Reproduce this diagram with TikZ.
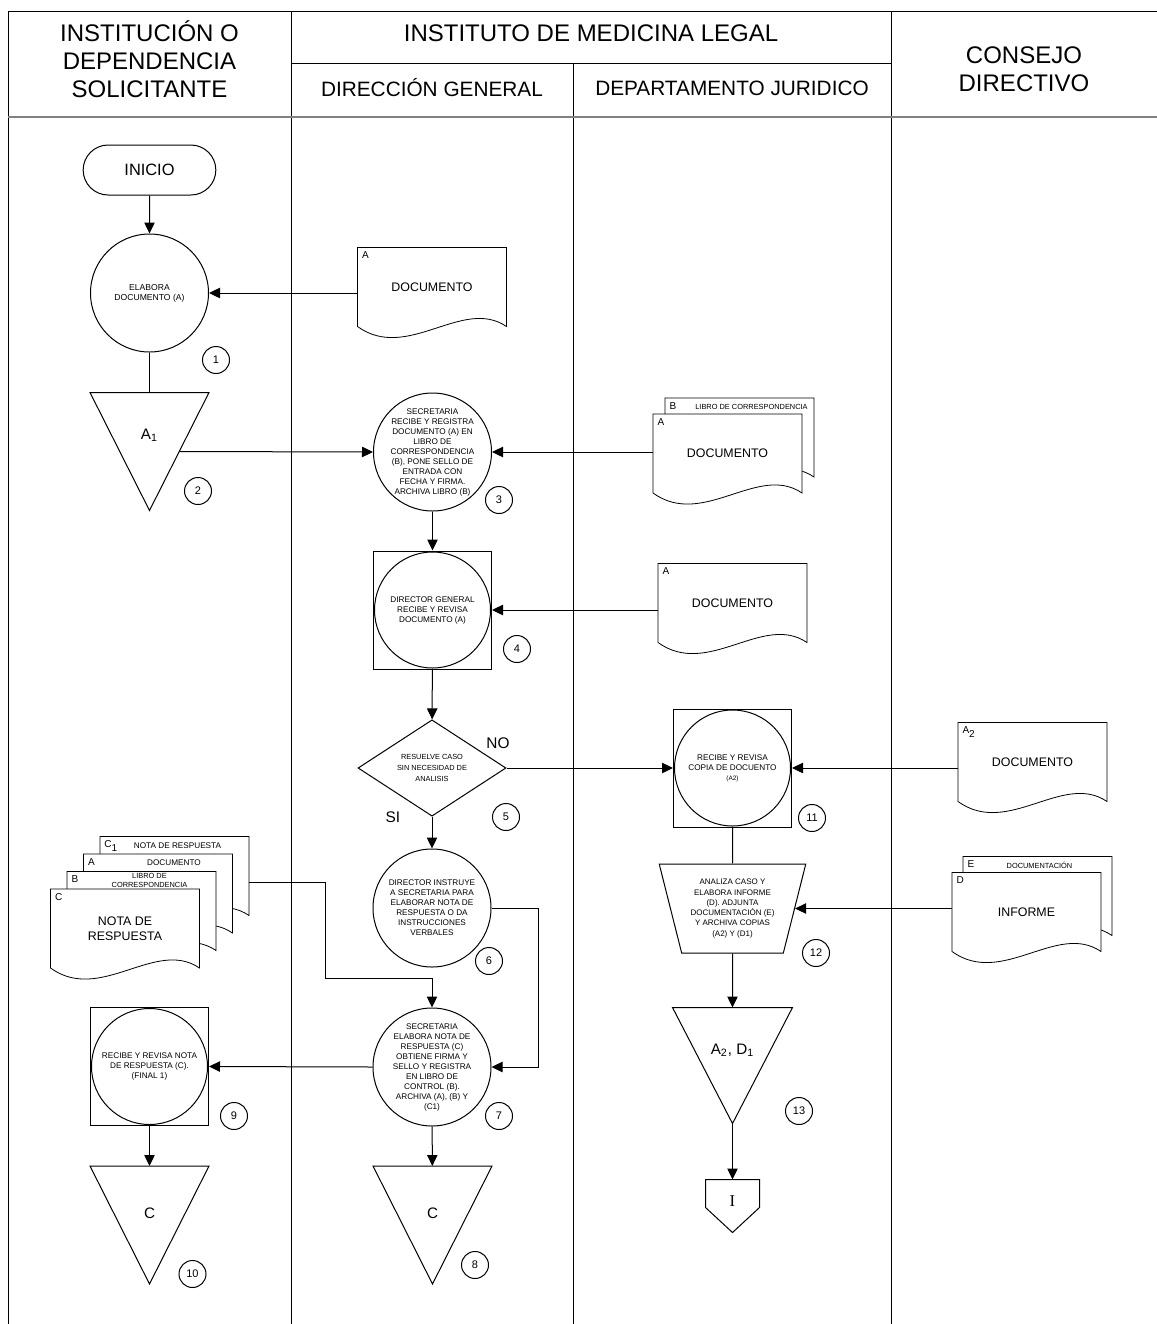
\documentclass[tikz,border=0pt]{standalone}
\usepackage{fontspec}
\setmainfont{Liberation Sans}
\newfontfamily\serifI{Liberation Serif}
\usetikzlibrary{arrows.meta, positioning, calc, backgrounds}
\usetikzlibrary{shapes.geometric, shapes.misc}

\newcommand{\docout}[1]{\draw[fill=white] (#1.north west) -- (#1.north east) -- (#1.south east) .. controls +(-22pt,15pt) and +(25pt,-18pt) .. (#1.south west) -- cycle;}
\newcommand{\triout}[1]{\draw (#1.north west) -- (#1.north east) -- (#1.south) -- cycle;}
\newcommand{\connout}[1]{\draw (#1.north west) -- (#1.north east) -- ([yshift=12.5pt]#1.south east) -- (#1.south) -- ([yshift=12.5pt]#1.south west) -- cycle;}

\begin{document}
\begin{tikzpicture}[x=0.5pt, y=-0.5pt, line width=0.5pt,
head_txt/.style={font=\fontsize{12}{14}\selectfont, align=center, inner sep=0pt},
sub_txt/.style={font=\fontsize{10.4}{12}\selectfont, inner sep=0pt},
term_box/.style={rounded rectangle, draw, minimum width=73pt, minimum height=25pt, font=\fontsize{8.2}{9}\selectfont},
proc_circle/.style={circle, draw, minimum size=59pt, inner sep=-4pt, align=center, font=\fontsize{4.1}{5}\selectfont},
insp_box/.style={rectangle, draw, minimum size=59pt, inner sep=0pt, align=center, font=\fontsize{4.1}{5}\selectfont,
    path picture={\draw (path picture bounding box.center) circle[radius=29pt];}},
dec_box/.style={diamond, draw, minimum width=74pt, minimum height=43pt, inner sep=0pt, align=center, font=\fontsize{3.7}{5.3}\selectfont},
manual_box/.style={trapezium, trapezium angle=72.5, shape border rotate=180, trapezium stretches=true, draw,
    minimum width=73.5pt, minimum height=44.5pt, inner sep=0pt, align=center, font=\fontsize{4}{5.15}\selectfont},
conn_box/.style={minimum width=26.5pt, minimum height=26pt, inner sep=0pt},
step_num/.style={circle, draw, minimum size=13.5pt, inner sep=0pt, font=\fontsize{5.5}{6}\selectfont},
doc_box/.style={rectangle, minimum width=74pt, minimum height=39pt, inner sep=0pt, align=center, font=\fontsize{6.2}{7.5}\selectfont},
doc_letter/.style={anchor=north west, inner sep=2pt, font=\fontsize{5}{6}\selectfont},
doc_head/.style={anchor=center, inner sep=0pt, align=center, font=\fontsize{3.7}{4.5}\selectfont},
tri_box/.style={minimum width=59pt, minimum height=58.5pt, inner sep=0pt},
tri_lbl/.style={inner sep=0pt, font=\fontsize{7.6}{8}\selectfont},
ans_txt/.style={inner sep=0pt, font=\fontsize{7.7}{9}\selectfont},
arr/.style={-{Triangle[length=5.5pt, width=5.2pt]}}
]
\useasboundingbox (0,0) rectangle (1157,1324);

% Draw lanes and header
    \draw (8,1324) -- (8,11) -- (1157,11);
    \draw (291,11) -- (291,1324);
    \draw (891,11) -- (891,1324);
    \draw (573,63) -- (573,1324);
    \draw (291,63) -- (891,63);
    \draw[gray, line width=1pt] (8,117) -- (1157,117);
    \node[head_txt] (hSol) at (149.5,59) {INSTITUCIÓN O\\DEPENDENCIA\\SOLICITANTE};
    \node[head_txt] (hIml) at (591,33.5) {INSTITUTO DE MEDICINA LEGAL};
    \node[sub_txt] (hDir) at (432,88) {DIRECCIÓN GENERAL};
    \node[sub_txt] (hDep) at (732,88) {DEPARTAMENTO JURIDICO};
    \node[head_txt] (hCon) at (1024,69) {CONSEJO\\DIRECTIVO};

% Draw solicitante steps
    \node[term_box] (inicio) at (149.5,170) {INICIO};
    \node[proc_circle, font=\fontsize{4.3}{5}\selectfont] (elab) at (149.5,293) {ELABORA\\DOCUMENTO (A)};
    \node[step_num] (n1) at (216,360) {1};
    \node[tri_box, label={[tri_lbl,yshift=8.25pt]center:{A\textsubscript{1}}}] (arch1) at (149.5,451.5) {};
    \node[step_num] (n2) at (198,491) {2};

% Draw direccion general steps
    \node[proc_circle] (secR) at (432.5,452) {SECRETARIA\\RECIBE Y REGISTRA\\DOCUMENTO (A) EN\\LIBRO DE\\CORRESPONDENCIA\\(B),  PONE SELLO DE\\ENTRADA CON\\FECHA Y FIRMA.\\ARCHIVA LIBRO (B)};
    \node[step_num] (n3) at (499,500) {3};
    \node[insp_box] (dirRev) at (432.5,610) {DIRECTOR GENERAL\\RECIBE Y REVISA\\DOCUMENTO (A)};
    \node[step_num] (n4) at (517,649) {4};
    \node[dec_box] (dec) at (432,768) {RESUELVE CASO\\SIN NECESIDAD DE\\ANALISIS};
    \node[step_num] (n5) at (506,817) {5};
    \node[ans_txt] (lblNo) at (498,743) {NO};
    \node[ans_txt] (lblSi) at (393,817) {SI};
    \node[proc_circle] (dirIns) at (432,908) {DIRECTOR INSTRUYE\\A SECRETARIA PARA\\ELABORAR NOTA DE\\RESPUESTA O DA\\INSTRUCCIONES\\VERBALES};
    \node[step_num] (n6) at (489,961) {6};
    \node[proc_circle] (secEl) at (432,1067) {SECRETARIA\\ELABORA NOTA DE\\RESPUESTA (C)\\OBTIENE FIRMA Y\\SELLO Y REGISTRA\\EN LIBRO DE\\CONTROL (B).\\ARCHIVA (A), (B) Y\\(C1)};
    \node[step_num] (n7) at (499,1116) {7};
    \node[tri_box, label={[tri_lbl,yshift=6pt]center:C}] (archC) at (432.5,1225) {};
    \node[step_num] (n8) at (475,1265) {8};

% Draw final steps of solicitante
    \node[insp_box] (revNota) at (149.5,1066.5) {RECIBE Y REVISA NOTA\\DE RESPUESTA (C).\\(FINAL 1)};
    \node[step_num] (n9) at (234,1116) {9};
    \node[tri_box, label={[tri_lbl,yshift=6pt]center:C}] (archC2) at (149.5,1225) {};
    \node[step_num] (n10) at (192.5,1274) {10};

% Draw departamento juridico steps
    \node[insp_box] (revCop) at (732.5,768) {RECIBE Y REVISA\\COPIA DE DOCUENTO\\{\fontsize{3.2}{4}\selectfont(A2)}};
    \node[step_num] (n11) at (812,818) {11};
    \node[manual_box] (anal) at (732.5,908.5) {ANALIZA CASO Y\\ELABORA INFORME\\(D). ADJUNTA\\DOCUMENTACIÓN (E)\\Y ARCHIVA COPIAS\\(A2) Y (D1)};
    \node[step_num] (n12) at (816,953) {12};
    \node[tri_box, minimum width=59.5pt, minimum height=57.5pt, label={[tri_lbl,yshift=7.75pt]center:{A\textsubscript{2}, D\textsubscript{1}}}] (arch2) at (732.5,1065.5) {};
    \node[step_num] (n13) at (799,1111) {13};
    \node[conn_box, label={[inner sep=0pt, yshift=2.5pt, font=\serifI\fontsize{8.3}{9}\selectfont]center:I}] (offI) at (732.5,1206) {};

% Draw documents
    \node[doc_box, label={[doc_letter]north west:A}] (docA) at (432,287) {DOCUMENTO};
    \node[doc_box, label={[doc_letter]north west:B}, label={[doc_head,xshift=6pt,yshift=-4.5pt]north:LIBRO DE CORRESPONDENCIA}] (docB) at (739.5,437.5) {};
    \node[doc_box, label={[doc_letter]north west:A}] (docA2) at (727.5,453.5) {DOCUMENTO};
    \node[doc_box, label={[doc_letter]north west:A}] (docA3) at (732.5,603) {DOCUMENTO};
    \node[doc_box, label={[doc_letter]north west:{A\textsubscript{2}}}] (docA4) at (1032.5,762) {DOCUMENTO};
    \node[doc_box, label={[doc_letter]north west:E}, label={[doc_head,xshift=1pt,yshift=-4.5pt]north:DOCUMENTACIÓN}] (docE) at (1037.5,896) {};
    \node[doc_box, label={[doc_letter]north west:D}] (docD) at (1026.5,912) {INFORME};
    \node[doc_box, label={[doc_letter]north west:{C\textsubscript{1}}}, label={[doc_head,font=\fontsize{4.1}{5}\selectfont,xshift=1.5pt,yshift=-4.5pt]north:NOTA DE RESPUESTA}] (docC1) at (174.5,876) {};
    \node[doc_box, label={[doc_letter]north west:A}, label={[doc_head,font=\fontsize{4.1}{5}\selectfont,xshift=8pt,yshift=-4.5pt]north:DOCUMENTO}] (docAc) at (158,893.5) {};
    \node[doc_box, label={[doc_letter]north west:B}, label={[doc_head,xshift=4pt,yshift=-4.5pt]north:LIBRO DE\\CORRESPONDENCIA}] (docBc) at (141.5,911) {};
    \node[doc_box, label={[doc_letter]north west:C}] (docC) at (125,928.5) {NOTA DE\\RESPUESTA};
    \begin{scope}[on background layer]
    \docout{docA}
    \docout{docB} \docout{docA2}
    \docout{docA3}
    \docout{docA4}
    \docout{docE} \docout{docD}
    \docout{docC1} \docout{docAc} \docout{docBc} \docout{docC}
    \end{scope}

% Draw storage triangles and page connector
    \triout{arch1}
    \triout{archC}
    \triout{archC2}
    \triout{arch2}
    \connout{offI}

% Draw connectors
    \draw[arr] (inicio) -- (elab);
    \draw (elab) -- (arch1);
    \draw[arr] (docA.west |- elab.east) -- (elab.east);
    \draw[arr] ($(arch1.north east)!0.5!(arch1.south)$) -- (secR.west);
    \draw[arr] (docA2.west |- secR.east) -- (secR.east);
    \draw[arr] (secR) -- (dirRev);
    \draw[arr] (docA3.west |- dirRev.east) -- (dirRev.east);
    \draw[arr] (dirRev) -- (dec);
    \draw[arr] (dec.east) -- (revCop.west);
    \draw[arr] (dec.south) -- (dirIns.north);
    \draw[arr] (docA4.west |- revCop.east) -- (revCop.east);
    \draw (revCop) -- (anal);
    \draw[arr] (docD.west |- anal.east) -- (anal.east);
    \draw[arr] (anal) -- (arch2);
    \draw[arr] (arch2.south) -- (offI.north);
    \coordinate (bendC) at (325,978);
    \draw[arr] ([yshift=-3pt]docC1.east) -| (bendC) -| (secEl.north);
    \draw[arr] (dirIns.east) -- ++(47,0) |- (secEl.east);
    \draw[arr] (secEl.west) -- (revNota.east);
    \draw[arr] (secEl) -- (archC);
    \draw[arr] (revNota) -- (archC2);
\end{tikzpicture}
\end{document}
